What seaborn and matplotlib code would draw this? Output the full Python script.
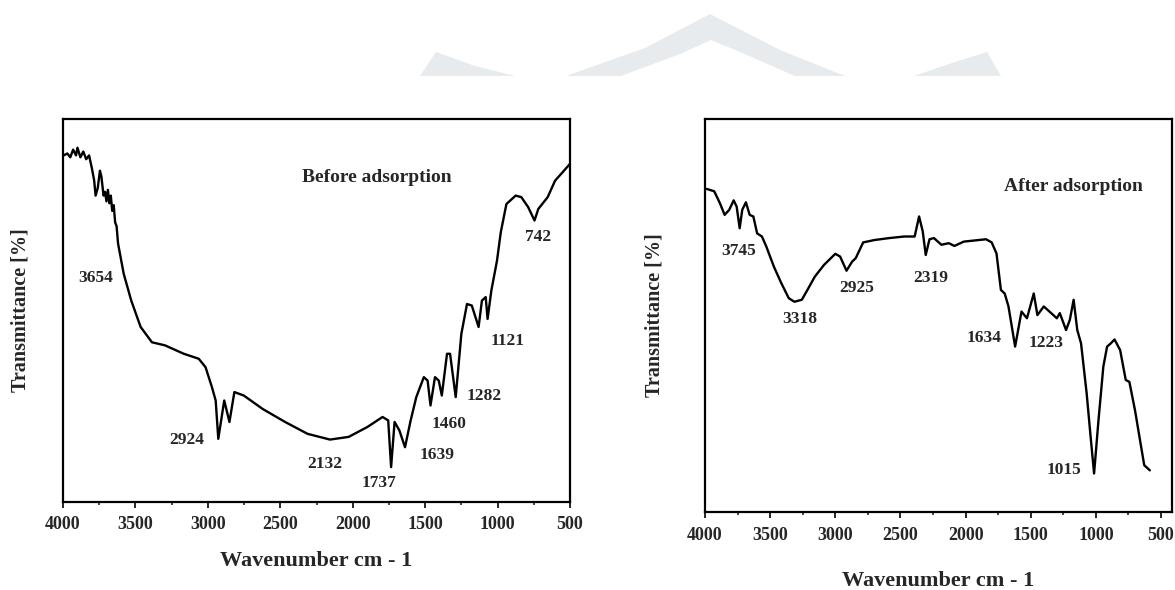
import numpy as np
import pandas as pd
import matplotlib.pyplot as plt
import seaborn as sns
from matplotlib.patches import Polygon
from matplotlib.ticker import MultipleLocator

# ---------------------------
# Data (arbitrary transmittance units)
# ---------------------------
before_wn = [4000, 3970, 3950, 3930, 3910, 3900, 3880, 3860, 3840, 3820, 3800,
             3785, 3775, 3760, 3745, 3735, 3720, 3710, 3700, 3690, 3680, 3670,
             3660, 3650, 3640, 3630, 3620, 3581, 3529, 3464, 3386, 3296, 3166,
             3063, 3016, 2972, 2946, 2928, 2887, 2851, 2817, 2752, 2622, 2467,
             2312, 2157, 2028, 1898, 1794, 1755, 1735, 1711, 1678, 1639, 1600,
             1561, 1509, 1483, 1463, 1432, 1406, 1385, 1349, 1328, 1289, 1250,
             1211, 1178, 1131, 1108, 1082, 1069, 1043, 1004, 978, 939, 875, 836,
             789, 745, 719, 654, 603, 551, 500]
before_t = [90.4, 91.0, 90.0, 92.0, 90.5, 92.5, 90.0, 91.5, 89.5, 90.5, 87.0,
            84.0, 80.0, 82.0, 86.5, 85.0, 80.0, 81.0, 78.5, 81.5, 78.0, 80.0,
            76.0, 77.5, 73.0, 72.0, 67.5, 59.6, 52.6, 45.7, 41.7, 40.9, 38.7,
            37.4, 35.2, 30.0, 26.5, 16.5, 26.5, 20.9, 28.7, 27.8, 24.3, 20.9,
            17.8, 16.3, 17.0, 19.6, 22.2, 21.3, 9.1, 20.9, 18.7, 14.3, 21.3,
            27.4, 32.6, 31.7, 25.2, 32.6, 31.7, 27.8, 38.7, 38.7, 27.4, 43.9,
            51.7, 51.3, 45.7, 52.6, 53.5, 47.8, 55.2, 63.0, 70.4, 77.8, 80.0,
            79.6, 77.0, 73.5, 76.5, 79.6, 83.9, 86.1, 88.3]

after_wn = [3986, 3929, 3886, 3849, 3814, 3780, 3757, 3734, 3714, 3686, 3657,
            3629, 3600, 3563, 3529, 3471, 3414, 3357, 3314, 3257, 3214, 3157,
            3086, 3000, 2963, 2914, 2871, 2843, 2786, 2700, 2586, 2471, 2391,
            2357, 2329, 2306, 2277, 2243, 2186, 2129, 2086, 2014, 1900, 1843,
            1800, 1763, 1729, 1700, 1671, 1620, 1571, 1529, 1477, 1449, 1400,
            1343, 1300, 1277, 1229, 1200, 1171, 1143, 1114, 1071, 1043, 1014,
            980, 943, 914, 886, 857, 814, 771, 743, 700, 657, 629, 586]
after_t = [82.2, 81.6, 78.6, 75.6, 76.9, 79.3, 77.7, 72.2, 76.9, 78.8, 75.6,
           75.2, 70.9, 70.1, 67.5, 62.4, 58.2, 54.4, 53.5, 54.0, 56.5, 59.9,
           62.9, 65.7, 65.0, 61.4, 63.7, 64.6, 68.6, 69.2, 69.7, 70.1, 70.1,
           75.2, 71.4, 65.4, 69.4, 69.7, 68.0, 68.4, 67.7, 68.8, 69.2, 69.4,
           68.6, 65.8, 56.5, 55.6, 52.3, 42.1, 51.0, 49.3, 55.6, 50.1, 52.3,
           50.6, 49.3, 50.6, 46.3, 48.9, 54.0, 46.3, 42.9, 30.2, 20.0, 9.8,
           23.4, 37.0, 42.1, 42.9, 43.9, 41.2, 33.6, 33.1, 25.9, 17.4, 11.9, 10.6]

# peak labels: text, wavenumber position, transmittance position
before_labels = ["3654", "2924", "2132", "1737", "1639", "1460", "1282", "1121", "742"]
before_lab_x = [3775, 3146, 2196, 1821, 1419, 1333, 1096, 929, 720]
before_lab_y = [58.5, 16.1, 10.0, 5.0, 12.2, 20.4, 27.8, 42.0, 69.3]

after_labels = ["3745", "3318", "2925", "2319", "1634", "1223", "1015"]
after_lab_x = [3743, 3271, 2837, 2271, 1857, 1380, 1249]
after_lab_y = [66.3, 49.0, 56.9, 59.5, 44.2, 42.9, 10.6]

W, H = 1175, 590

sns.set_theme(style="ticks")
plt.rcParams["font.family"] = ["Liberation Serif", "DejaVu Serif"]
plt.rcParams["font.weight"] = "bold"

fig = plt.figure(figsize=(W / 100, H / 100), dpi=100)

# faint watermark at the top (decoration only)
wm_color = "#e7ebed"
for pts in [
    [(420, 76), (436, 52), (475, 66), (515, 76)],
    [(566, 76), (645, 48), (710, 14), (780, 50), (845, 76), (795, 76), (740, 52), (711, 40),
     (680, 54), (621, 76)],
    [(914, 76), (955, 62), (987, 52), (1001, 76)],
]:
    poly = Polygon([(x / W, 1 - y / H) for x, y in pts], closed=True,
                   transform=fig.transFigure, facecolor=wm_color, edgecolor="none", zorder=0)
    fig.add_artist(poly)


def draw_panel(rect, wn, t, labels, lab_x, lab_y, title, title_xy, xlim, ylab_x, xlab_y, pad):
    ax = fig.add_axes(rect)
    df = pd.DataFrame({"wn": wn, "t": t})
    sns.lineplot(data=df, x="wn", y="t", sort=False, estimator=None,
                 color="black", linewidth=1.7, ax=ax)
    ax.set_xlim(*xlim)
    ax.set_ylim(0, 100)
    ax.set_yticks([])
    ax.xaxis.set_major_locator(MultipleLocator(500))
    ax.xaxis.set_minor_locator(MultipleLocator(250))
    ax.tick_params(axis="x", which="major", direction="out", length=4, width=1.4,
                   labelsize=13, pad=pad)
    ax.tick_params(axis="x", which="minor", direction="out", length=2.5, width=1.2)
    for lab in ax.get_xticklabels():
        lab.set_fontweight("bold")
    for sp in ax.spines.values():
        sp.set_visible(True)
        sp.set_linewidth(1.6)
        sp.set_color("black")
    ax.set_xlabel("Wavenumber cm - 1", fontsize=16, fontweight="bold")
    ax.set_ylabel("Transmittance [%]", fontsize=14.5, fontweight="bold")
    ax.xaxis.set_label_coords(0.5, xlab_y)
    ax.yaxis.set_label_coords(ylab_x, 0.5)
    for txt, x, y in zip(labels, lab_x, lab_y):
        ax.text(x, y, txt, fontsize=12.5, fontweight="bold", ha="center", va="center")
    ax.text(title_xy[0], title_xy[1], title, fontsize=14, fontweight="bold",
            ha="center", va="center")
    return ax


draw_panel([63 / W, 1 - 502 / H, 507 / W, 383 / H], before_wn, before_t,
           before_labels, before_lab_x, before_lab_y,
           "Before adsorption", (1835, 84.6), (4000, 500), -0.065, -0.128, 6)

draw_panel([705 / W, 1 - 512 / H, 467 / W, 393 / H], after_wn, after_t,
           after_labels, after_lab_x, after_lab_y,
           "After adsorption", (1171, 82.7), (4000, 416), -0.086, -0.150, 7)

fig.savefig("out.png", dpi=100)
